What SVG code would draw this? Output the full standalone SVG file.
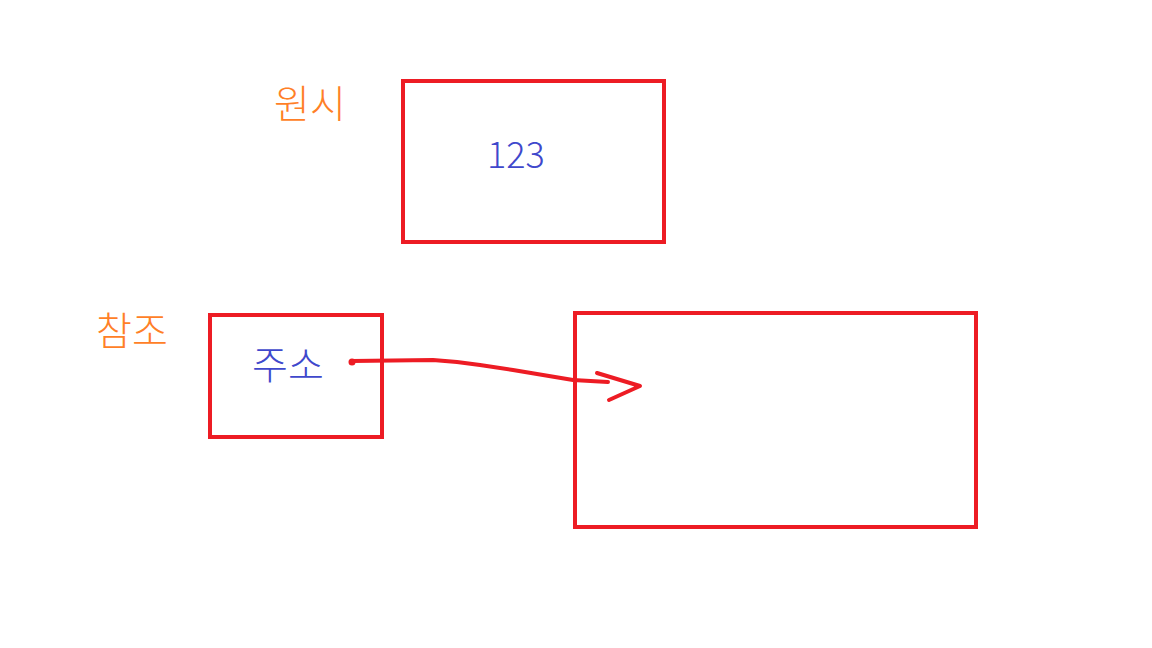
<svg xmlns="http://www.w3.org/2000/svg" width="1152" height="648" viewBox="0 0 1152 648">
<style>
.box{fill:none;stroke:#ED1C24;stroke-width:4}
.lbl{font-family:"Noto Sans CJK KR","Noto Sans",sans-serif;font-weight:300;fill:#FF7F27;font-size:39px}
.val{font-family:"Noto Sans CJK KR","Noto Sans",sans-serif;font-weight:300;fill:#3F48CC;font-size:36px}
.kor{font-size:39px}
.pen{fill:none;stroke:#ED1C24;stroke-width:4;stroke-linecap:round;stroke-linejoin:round}
</style>
<rect width="1152" height="648" fill="#fff"/>
<g id="label-primitive"><text class="lbl" x="274" y="118">원시</text></g>
<g id="label-reference"><text class="lbl" x="96" y="345">참조</text></g>
<g id="node-primitive">
<rect class="box" x="403" y="81" width="261" height="161"/>
<text class="val" x="487" y="168">123</text>
</g>
<g id="node-reference">
<rect class="box" x="210" y="315" width="172" height="122"/>
<text class="val kor" x="252" y="379">주소</text>
</g>
<g id="node-heap">
<rect class="box" x="575" y="313" width="401" height="214"/>
</g>
<g id="connectors">
<circle cx="352" cy="362" r="3.5" fill="#ED1C24"/>
<path class="pen" d="M352,361 L433,360 L457,362 L480,365 L513,370 L543,375 L573,380 L608,382"/>
<path class="pen" d="M597,373 L640,386 L609,400"/>
</g>
</svg>
